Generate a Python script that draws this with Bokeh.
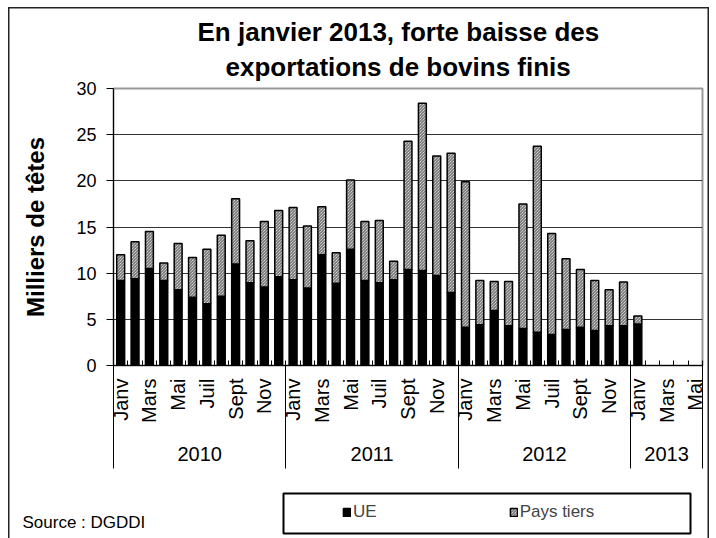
import math
from bokeh.plotting import figure
from bokeh.layouts import column
from bokeh.models import (ColumnDataSource, Range1d, FixedTicker, LinearAxis, Legend,
                          LegendItem, Title, CustomJSTickFormatter, Label, BoxAnnotation)
from bokeh.transform import stack
from bokeh.embed import file_html
from bokeh.resources import INLINE

nan = float("nan")

years = ["2010", "2011", "2012", "2013"]
months_per_year = [12, 12, 12, 5]
month_labels = ["Janv", "", "Mars", "", "Mai", "", "Juil", "", "Sept", "", "Nov", ""]

# Milliers de têtes
ue = [9.2, 9.4, 10.5, 9.2, 8.2, 7.4, 6.7, 7.5, 11.0, 8.95, 8.5, 9.6,
      9.3, 8.4, 12.0, 8.9, 12.6, 9.2, 8.95, 9.3, 10.4, 10.3, 9.75, 7.9,
      4.15, 4.4, 5.95, 4.3, 4.0, 3.6, 3.35, 3.9, 4.15, 3.8, 4.3, 4.3,
      4.5, nan, nan, nan, nan]
pays_tiers = [2.8, 4.0, 4.0, 1.9, 5.0, 4.3, 5.9, 6.6, 7.05, 4.55, 7.1, 7.2,
              7.8, 6.7, 5.2, 3.3, 7.5, 6.4, 6.75, 2.0, 13.9, 18.1, 12.95, 15.1,
              15.75, 4.8, 3.15, 4.8, 13.5, 20.15, 10.95, 7.65, 6.25, 5.4, 3.9, 4.75,
              0.85, nan, nan, nan, nan]

n = sum(months_per_year)
x = list(range(n))
cat_labels = []
for m in months_per_year:
    cat_labels += month_labels[:m]

bounds = [-0.5]
for m in months_per_year:
    bounds.append(bounds[-1] + m)
year_centers = [(bounds[i] + bounds[i + 1]) / 2 for i in range(len(years))]

src = ColumnDataSource(dict(x=x, ue=ue, tiers=pays_tiers))

FONT = "Liberation Sans"
UE_STYLE = dict(fill_color="black", line_color="black", line_width=1.5)
PT_STYLE = dict(fill_color="white", hatch_pattern="\\", hatch_color="#555555",
                hatch_scale=3, hatch_weight=1, line_color="black", line_width=1.5)

p = figure(width=716, height=470, output_backend="svg", toolbar_location=None,
           x_range=Range1d(-0.5, n - 0.5), y_range=Range1d(0, 30),
           x_axis_type=None,
           title="En janvier 2013, forte baisse des",
           min_border_left=113, min_border_right=14, min_border_top=88, min_border_bottom=105)
p.border_fill_color = "white"
p.border_fill_alpha = 0
p.background_fill_color = "white"

p.title.align = "left"
p.title.offset = 84
p.title.standoff = 0
p.title.vertical_align = "bottom"
p.title.text_font = FONT
p.title.text_font_size = "26px"
p.title.text_font_style = "bold"
p.title.text_color = "black"

t2 = Title(text="exportations de bovins finis", align="left", offset=112, standoff=10,
           vertical_align="top",
           text_font=FONT, text_font_size="26px", text_font_style="bold", text_color="black")
p.add_layout(t2, "above")

p.outline_line_color = "#999999"
p.outline_line_width = 2

# y axis
p.yaxis.ticker = FixedTicker(ticks=[0, 5, 10, 15, 20, 25, 30])
p.ygrid.ticker = FixedTicker(ticks=[5, 10, 15, 20, 25])
p.ygrid.grid_line_color = "#333333"
p.ygrid.grid_line_width = 1
p.yaxis.axis_line_color = "black"
p.yaxis.major_tick_line_color = "black"
p.yaxis.major_tick_out = 7
p.yaxis.major_tick_in = 0
p.yaxis.minor_tick_line_color = None
p.yaxis.major_label_standoff = 10
p.yaxis.major_label_text_font = FONT
p.yaxis.major_label_text_font_size = "18px"
p.yaxis.major_label_text_color = "black"
p.yaxis.axis_label = "Milliers de têtes"
p.yaxis.axis_label_text_font = FONT
p.yaxis.axis_label_text_font_size = "24px"
p.yaxis.axis_label_text_font_style = "bold"
p.yaxis.axis_label_text_color = "black"
p.yaxis.axis_label_standoff = 24

# bars
r_ue = p.vbar(x="x", bottom=0, top="ue", width=0.55, source=src, **UE_STYLE)
r_t = p.vbar(x="x", bottom="ue", top=stack("ue", "tiers"), width=0.55, source=src, **PT_STYLE)

# month axis
month_ticks = [x[i] for i, l in enumerate(cat_labels) if l]
axA = LinearAxis(ticker=FixedTicker(ticks=month_ticks, minor_ticks=[b - 0.5 for b in range(n + 1)]),
                 major_label_overrides={x[i]: l for i, l in enumerate(cat_labels) if l},
                 major_label_orientation=math.pi / 2,
                 major_tick_in=0, major_tick_out=0, minor_tick_in=5, minor_tick_out=0,
                 minor_tick_line_color="black", axis_line_color="black",
                 major_label_standoff=13, major_label_text_font=FONT,
                 major_label_text_font_size="20px", major_label_text_color="black")
p.add_layout(axA, "below")

# year axis
axB = LinearAxis(ticker=FixedTicker(ticks=year_centers, minor_ticks=bounds),
                 formatter=CustomJSTickFormatter(args=dict(labels=years), code="return labels[index];"),
                 major_tick_in=0, major_tick_out=0, major_tick_line_color=None,
                 minor_tick_in=60, minor_tick_out=43, minor_tick_line_color="black",
                 axis_line_color=None, major_label_standoff=-22, major_label_text_font=FONT,
                 major_label_text_font_size="20px", major_label_text_color="black")
p.add_layout(axB, "below")

# legend strip (pixel-like coordinates, y downwards)
q = figure(width=716, height=68, output_backend="svg", toolbar_location=None,
           x_range=Range1d(0, 716), y_range=Range1d(68, 0),
           x_axis_location=None, y_axis_location=None,
           min_border_left=0, min_border_right=0, min_border_top=0, min_border_bottom=0)
q.grid.visible = False
q.outline_line_color = None
q.background_fill_alpha = 0
q.border_fill_alpha = 0
l_ue = q.vbar(x="x", top="ue", width=1, source=src, visible=False, **UE_STYLE)
l_pt = q.vbar(x="x", top="tiers", width=1, source=src, visible=False, **PT_STYLE)

for fig in (p, q):
    if "frame_align" in fig.properties():
        fig.frame_align = False

q.add_layout(BoxAnnotation(left=283, right=690, top=23, bottom=63,
                           fill_color="white", fill_alpha=1.0,
                           line_color="black", line_alpha=1.0, line_width=2))

legend = Legend(items=[LegendItem(label="UE", renderers=[l_ue]),
                       LegendItem(label="Pays tiers", renderers=[l_pt])],
                orientation="horizontal", location=(342, 16), padding=0, spacing=132,
                label_width=10, label_height=21, glyph_width=9, glyph_height=10,
                label_standoff=2, border_line_color=None, background_fill_alpha=0,
                inactive_fill_alpha=0, click_policy="none",
                label_text_font=FONT, label_text_font_size="17px", margin=0)
q.add_layout(legend)

q.add_layout(Label(x=22, y=52, text="Source : DGDDI", text_baseline="middle",
                   text_font=FONT, text_font_size="17px", text_color="black"))

layout = column(p, q, spacing=0)
layout.styles = {
    "background-color": "white",
    "box-shadow": ("inset 8px 7px 0 0 #ffffff, inset -7px 0 0 0 #ffffff, "
                   "inset 9.5px 8.5px 0 0 #222222, inset -8.5px 0 0 0 #222222"),
}

open("out.html", "w").write(file_html(layout, INLINE))
